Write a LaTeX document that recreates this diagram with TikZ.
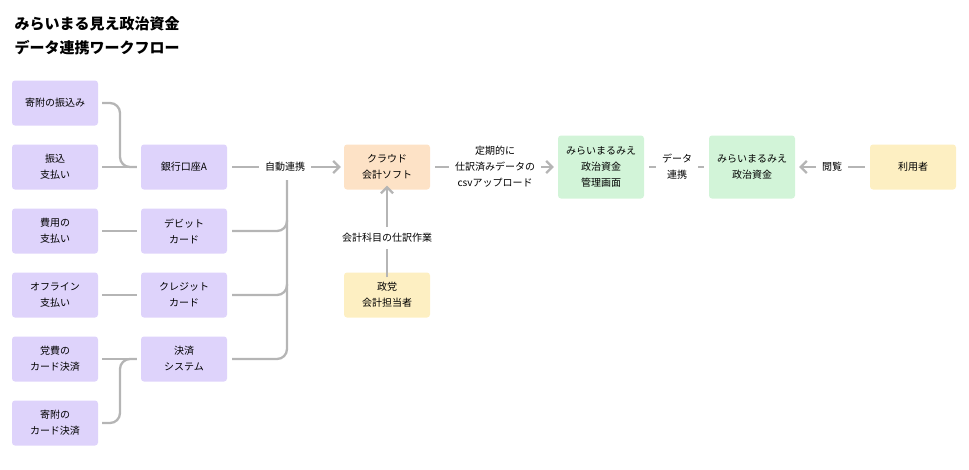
\documentclass[tikz,border=0pt]{standalone}
\usepackage{fontspec}
\setmainfont{Noto Sans CJK JP}
\usetikzlibrary{arrows.meta}
\definecolor{pur}{HTML}{DED3FB}
\definecolor{grn}{HTML}{D2F4D8}
\definecolor{org}{HTML}{FDE2C6}
\definecolor{ylw}{HTML}{FDEFC2}
\definecolor{ln}{HTML}{B5B5B5}
\tikzset{
 box/.style={rounded corners=3pt,minimum width=86pt,minimum height=45pt,align=center,font=\fontsize{10}{16}\selectfont,inner sep=1pt},
 pbox/.style={box,fill=pur},
 gbox/.style={box,fill=grn,minimum height=63pt},
 obox/.style={box,fill=org},
 ybox/.style={box,fill=ylw},
 con/.style={draw=ln,line width=2.3pt},
 arr/.style={con,-{Straight Barb[length=6pt,width=12pt,line width=2.3pt]}},
 lbl/.style={align=center,font=\fontsize{10}{16}\selectfont,inner xsep=6pt,inner ysep=6pt}
}
\begin{document}
\begin{tikzpicture}[x=1pt,y=-1pt]
\useasboundingbox (0,0) rectangle (969,469);
\node[anchor=west,align=left,font=\fontsize{15}{24}\selectfont\bfseries] (title) at (11,36) {みらいまる見え政治資金\\データ連携ワークフロー};
\node[pbox] (l1) at (55,103) {寄附の振込み};
\node[pbox] (l2) at (55,167) {振込\\支払い};
\node[pbox] (l3) at (55,231) {費用の\\支払い};
\node[pbox] (l4) at (55,295) {オフライン\\支払い};
\node[pbox] (l5) at (55,359) {党費の\\カード決済};
\node[pbox] (l6) at (55,423) {寄附の\\カード決済};
\node[pbox] (m1) at (184,167) {銀行口座A};
\node[pbox] (m2) at (184,231) {デビット\\カード};
\node[pbox] (m3) at (184,295) {クレジット\\カード};
\node[pbox] (m4) at (184,359) {決済\\システム};
\node[obox] (cloud) at (387,167) {クラウド\\会計ソフト};
\node[ybox] (staff) at (387,295) {政党\\会計担当者};
\node[gbox] (g1) at (601,167) {みらいまるみえ\\政治資金\\管理画面};
\node[gbox] (g2) at (752,167) {みらいまるみえ\\政治資金};
\node[ybox] (user) at (913,167) {利用者};
\node[lbl] (auto) at (285,167) {自動連携};
\node[lbl] (csv) at (495,167) {定期的に\\仕訳済みデータの\\csvアップロード};
\node[lbl] (dl) at (677,167) {データ\\連携};
\node[lbl] (view) at (832,167) {閲覧};
\node[lbl] (work) at (387,238) {会計科目の仕訳作業};
% left merges
\draw[con,rounded corners=10pt] ([xshift=4pt]l1.east) -| (120,167) -- ([xshift=-4pt]m1.west);
\draw[con] ([xshift=4pt]l2.east) -- ([xshift=-4pt]m1.west);
\draw[con] ([xshift=4pt]l3.east) -- ([xshift=-4pt]m2.west);
\draw[con] ([xshift=4pt]l4.east) -- ([xshift=-4pt]m3.west);
\draw[con] ([xshift=4pt]l5.east) -- ([xshift=-4pt]m4.west);
\draw[con,rounded corners=10pt] ([xshift=4pt]l6.east) -| (120,359) -- ([xshift=-4pt]m4.west);
% to auto
\draw[con] ([xshift=5pt]m1.east) -- (auto.west);
\draw[con,rounded corners=10pt] ([xshift=5pt]m4.east) -| (287,180);
\draw[con,rounded corners=10pt] ([xshift=5pt]m2.east) -| (287,220);
\draw[con,rounded corners=10pt] ([xshift=5pt]m3.east) -| (287,284);
\draw[arr] (auto.east) -- ([xshift=-3pt]cloud.west);
% staff
\draw[con] ([yshift=-5pt]staff.north) -- (work.south);
\draw[arr] (work.north) -- ([yshift=4pt]cloud.south);
% csv
\draw[con] ([xshift=5pt]cloud.east) -- (csv.west);
\draw[arr] (csv.east) -- ([xshift=-4pt]g1.west);
\draw[con] ([xshift=5pt]g1.east) -- (dl.west);
\draw[con] (dl.east) -- ([xshift=-5pt]g2.west);
\draw[con] ([xshift=-5pt]user.west) -- (view.east);
\draw[arr] (view.west) -- ([xshift=4pt]g2.east);
\end{tikzpicture}
\end{document}
